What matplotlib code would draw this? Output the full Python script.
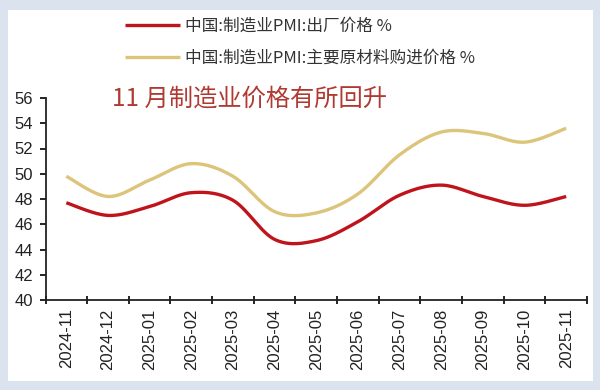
import numpy as np
import matplotlib
matplotlib.use("Agg")
import matplotlib.pyplot as plt
from matplotlib.patches import Rectangle

plt.rcParams['font.family'] = ['Noto Sans CJK SC', 'DejaVu Sans']

months = ['2024-11', '2024-12', '2025-01', '2025-02', '2025-03', '2025-04', '2025-05',
          '2025-06', '2025-07', '2025-08', '2025-09', '2025-10', '2025-11']
output_price = [47.7, 46.7, 47.4, 48.5, 47.9, 44.8, 44.7, 46.2, 48.3, 49.1, 48.2, 47.5, 48.2]
input_price = [49.8, 48.2, 49.5, 50.8, 49.8, 47.0, 46.9, 48.4, 51.5, 53.3, 53.2, 52.5, 53.6]
y_ticks = [40, 42, 44, 46, 48, 50, 52, 54, 56]

label_out = '中国:制造业PMI:出厂价格 %'
label_in = '中国:制造业PMI:主要原材料购进价格 %'
note = '11 月制造业价格有所回升'

red = '#c0141c'
tan = '#dcc47a'


def smooth(x, y, n=30):
    # excel-style smoothed line: cubic bezier through each pair of points
    x = np.asarray(x, float)
    y = np.asarray(y, float)
    px = np.concatenate([[x[0]], x, [x[-1]]])
    py = np.concatenate([[y[0]], y, [y[-1]]])
    t = np.linspace(0, 1, n)[:, None]
    xs, ys = [], []
    for i in range(1, len(px) - 2):
        p0 = np.array([px[i], py[i]])
        p3 = np.array([px[i + 1], py[i + 1]])
        p1 = p0 + (np.array([px[i + 1], py[i + 1]]) - np.array([px[i - 1], py[i - 1]])) / 6
        p2 = p3 - (np.array([px[i + 2], py[i + 2]]) - np.array([px[i], py[i]])) / 6
        pts = ((1 - t) ** 3) * p0 + 3 * ((1 - t) ** 2) * t * p1 + 3 * (1 - t) * t ** 2 * p2 + t ** 3 * p3
        xs.extend(pts[:, 0])
        ys.extend(pts[:, 1])
    return np.array(xs), np.array(ys)


fig = plt.figure(figsize=(6, 3.9), dpi=100, facecolor='#dbe3ef')
fig.patches.append(Rectangle((8 / 600, 1 - 381 / 390), 585 / 600, 371 / 390,
                             transform=fig.transFigure, facecolor='white', edgecolor='none', zorder=-5))

ax = fig.add_axes([45.5 / 600, 1 - 300 / 390, 541.5 / 600, 202 / 390])
ax.set_facecolor('none')

x = np.arange(len(months))
sx, sy = smooth(x, output_price)
ax.plot(sx, sy, color=red, lw=2.4, solid_capstyle='butt', label=label_out)
sx, sy = smooth(x, input_price)
ax.plot(sx, sy, color=tan, lw=2.4, solid_capstyle='butt', label=label_in)

ax.set_xlim(-0.5, len(months) - 0.5)
ax.set_ylim(40, 56)
ax.set_yticks(y_ticks)
ax.set_yticklabels([str(v) for v in y_ticks], fontsize=12, family='Liberation Sans', color='#222222')
ax.set_xticks(x)
ax.set_xticklabels(months, rotation=90, fontsize=12, family='Liberation Sans', color='#222222')
ax.tick_params(axis='x', which='major', length=0, pad=6)
ax.set_xticks(np.arange(len(months) + 1) - 0.5, minor=True)
ax.tick_params(axis='x', which='minor', length=6, direction='inout', width=1.2)
ax.tick_params(axis='y', length=4, direction='out', width=1.2, pad=5)
for s in ['top', 'right']:
    ax.spines[s].set_visible(False)
for s in ['left', 'bottom']:
    ax.spines[s].set_linewidth(1.3)
    ax.spines[s].set_color('#222222')

leg = fig.legend(loc='upper left', bbox_to_anchor=(115 / 600, 1 - 8 / 390), frameon=False,
                 fontsize=12, handlelength=3.3, handletextpad=0.3, labelspacing=0.9,
                 borderaxespad=0.2, labelcolor='#333333')

fig.text(112 / 600, 1 - 99 / 390, note, color='#b03a32', fontsize=17.5, va='center', ha='left')

fig.savefig('out.png', dpi=100, facecolor=fig.get_facecolor())
